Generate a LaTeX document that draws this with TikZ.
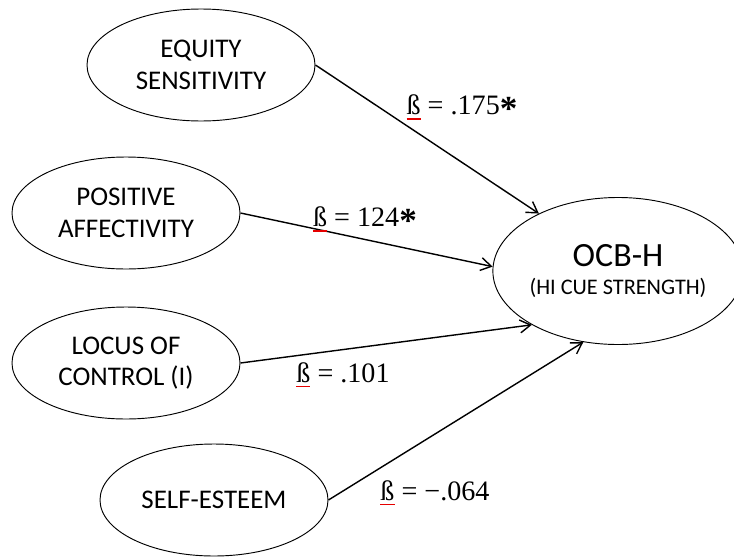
\documentclass[tikz,border=0pt]{standalone}
\usepackage{fontspec}
\setmainfont{Liberation Serif}
\newfontfamily\ovalfont{Carlito}
\usetikzlibrary{arrows.meta}
\usetikzlibrary{shapes,positioning}

\newcommand{\redbeta}{\rlap{\color{red!90!black}\rule[-4pt]{0.5em}{1pt}}ß}
\newcommand{\sig}{\raisebox{-5pt}{\fontsize{30}{30}\selectfont\textbf{*}}}

\begin{document}
\begin{tikzpicture}[x=0.03cm,y=-0.03cm,
	trait/.style={ellipse,draw,line width=0.8pt,minimum width=6.84cm,minimum height=3.36cm,
		inner sep=0pt,align=center,font=\ovalfont\fontsize{23}{27}\selectfont},
	path/.style={line width=1.2pt,-{Straight Barb[length=9pt,width=11pt,line width=1.2pt]}},
	coef/.style={font=\fontsize{24}{28}\selectfont,inner sep=0pt}]
\useasboundingbox (0,0) rectangle (734,557);

\node[trait] (equity) at (201,65) {EQUITY\\SENSITIVITY};
\node[trait] (posaff) at (126,213) {POSITIVE\\AFFECTIVITY};
\node[trait] (locus) at (126,363) {LOCUS OF\\CONTROL (I)};
\node[trait] (esteem) at (214,500) {SELF-ESTEEM};

\node[ellipse,draw,line width=0.8pt,minimum width=6.96cm,minimum height=4.41cm,inner sep=0pt,
	align=center,font=\ovalfont] (ocb) at (618,271)
	{{\fontsize{29}{32}\selectfont OCB-H}\\[9pt]
	 {\fontsize{19}{22}\selectfont (HI CUE STRENGTH)}};

\draw[path] (equity.east) -- (ocb.144);
\draw[path] (posaff.east) -- (ocb.178);
\draw[path] (locus.east) -- (ocb.212);
\draw[path] (esteem.east) -- (ocb.244);

% path coefficients
\node[coef] (b1) at (462,108) {\redbeta{} = .175\sig};
\node[coef] (b2) at (365,220) {\redbeta{} = 124\sig};
\node[coef] (b3) at (343,375) {\redbeta{} = .101};
\node[coef] (b4) at (435,493) {\redbeta{} = −.064};

\end{tikzpicture}
\end{document}
